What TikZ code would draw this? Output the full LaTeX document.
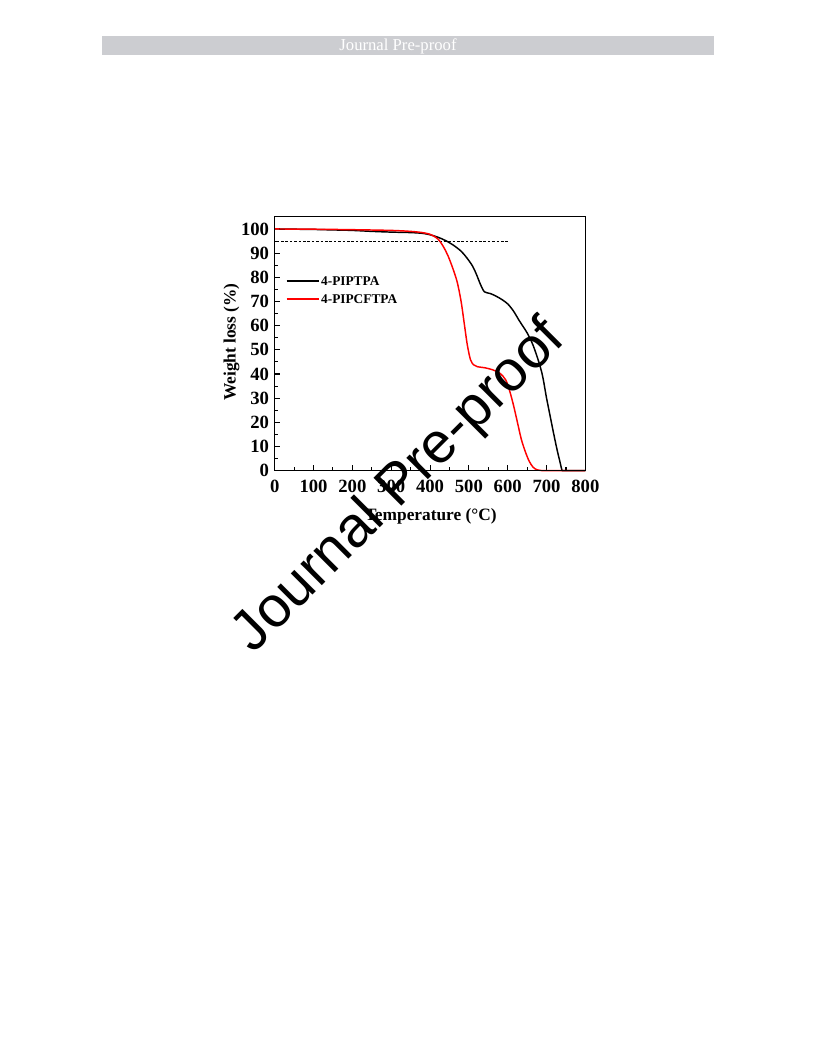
\documentclass[tikz,border=0pt]{standalone}
\usepackage{fontspec}
\setmainfont{Liberation Serif}
\newfontfamily\wmfont{Liberation Sans}
\usepackage{tikz}
\usetikzlibrary{positioning}
\definecolor{bargray}{RGB}{204,205,209}
\definecolor{tgared}{RGB}{255,0,0}

\tikzset{
	ticklab/.style={font=\fontsize{14}{14}\bfseries\selectfont, inner sep=0pt},
	axlab/.style={font=\fontsize{13}{13}\bfseries\selectfont, inner sep=0pt},
	leglab/.style={font=\fontsize{10}{10}\bfseries\selectfont, anchor=west, inner sep=0pt},
	tga/.style={line width=1.1pt, line join=round},
}

\begin{document}
\begin{tikzpicture}[x=0.75pt,y=-0.75pt]
	\useasboundingbox (0,0) rectangle (816,1056);
	% header bar
	\fill[bargray] (102,36) rectangle (714,55);
	\node[text=white, font=\fontsize{12.5}{12.5}\selectfont, inner sep=0pt] (hdr) at (398,46) {Journal Pre-proof};

	\begin{scope}[shift={(206pt,-353pt)}, x=0.2913pt, y=1.8128pt]
		\coordinate (O) at (0,0);
		\coordinate (TR) at (800,105.2);
		% ticks
		\foreach \x in {0,100,...,800} {
			\draw[line width=0.8pt] (\x,0) -- ++(0,4pt);
			\node[ticklab] (xl\x) at ([yshift=-11.5pt]\x,0) {\x};
		}
		\foreach \x in {50,150,...,750}
			\draw[line width=0.8pt] (\x,0) -- ++(0,2.5pt);
		\foreach \y in {0,10,...,100} {
			\draw[line width=0.8pt] (0,\y) -- ++(4pt,0);
			\node[ticklab, anchor=east] (yl\y) at ([xshift=-4pt]0,\y) {\y};
		}
		\foreach \y in {5,15,...,95}
			\draw[line width=0.8pt] (0,\y) -- ++(2.5pt,0);
		\node[axlab] (xlab) at ([yshift=-34.5pt]402,0) {Temperature (°C)};
		\node[axlab, rotate=90] (ylab) at ([xshift=-32.3pt]0,53.2) {Weight loss (\%)};

		% 95 % line
		\coordinate (d0) at (5,95);
		\coordinate (d1) at (600,95);
		\draw[line width=0.8pt, dash pattern=on 2pt off 1.3pt] (d0) -- (d1);

		% curves
		\draw[tga, black] plot[smooth, tension=0.5] coordinates {(0,100) (50,99.9) (100,99.8) (150,99.6) (200,99.4) (250,99.0) (300,98.7) (350,98.5) (380,98.2) (400,97.6) (420,96.6) (440,95.2) (460,93.3) (480,90.8) (495,88.0) (510,84.5) (520,81) (530,77) (540,74) (555,73.3) (570,72.2) (585,70.8) (600,69) (615,66) (630,62) (650,57) (665,52) (680,45) (690,39) (700,30) (710,22) (720,14) (728,8) (734,4) (737.5,1.5)} -- (740,0) -- (800,0);
		\draw[tga, tgared] plot[smooth, tension=0.5] coordinates {(0,100) (100,99.9) (200,99.7) (300,99.4) (350,99.0) (380,98.5) (400,97.8) (415,96.5) (425,95) (435,92.5) (446,89) (458,84) (470,78) (480,70) (488,61) (496,52) (504,46) (512,43.8) (522,43) (540,42.6) (560,41.8) (580,40.3) (595,37.5) (605,33) (615,27) (625,20) (635,13) (645,8) (655,4) (665,1.5) (675,0.4) (690,0)} -- (800,0);

		% frame
		\draw[line width=1.1pt] (O) rectangle (TR);

		% legend
		\coordinate (lk0) at (31,78.4);
		\coordinate (lk1) at (114,78.4);
		\coordinate (lr0) at (31,71.1);
		\coordinate (lr1) at (114,71.1);
		\draw[line width=1.3pt, black] (lk0) -- (lk1);
		\draw[line width=1.3pt, red] (lr0) -- (lr1);
		\node[leglab] (lkt) at (119,78.4) {4-PIPTPA};
		\node[leglab] (lrt) at (119,71.1) {4-PIPCFTPA};
	\end{scope}

	% watermark
	\node[rotate=45, font=\wmfont\fontsize{43}{43}\selectfont, inner sep=0pt] (wm) at (400,487) {Journal Pre-proof};
\end{tikzpicture}
\end{document}
